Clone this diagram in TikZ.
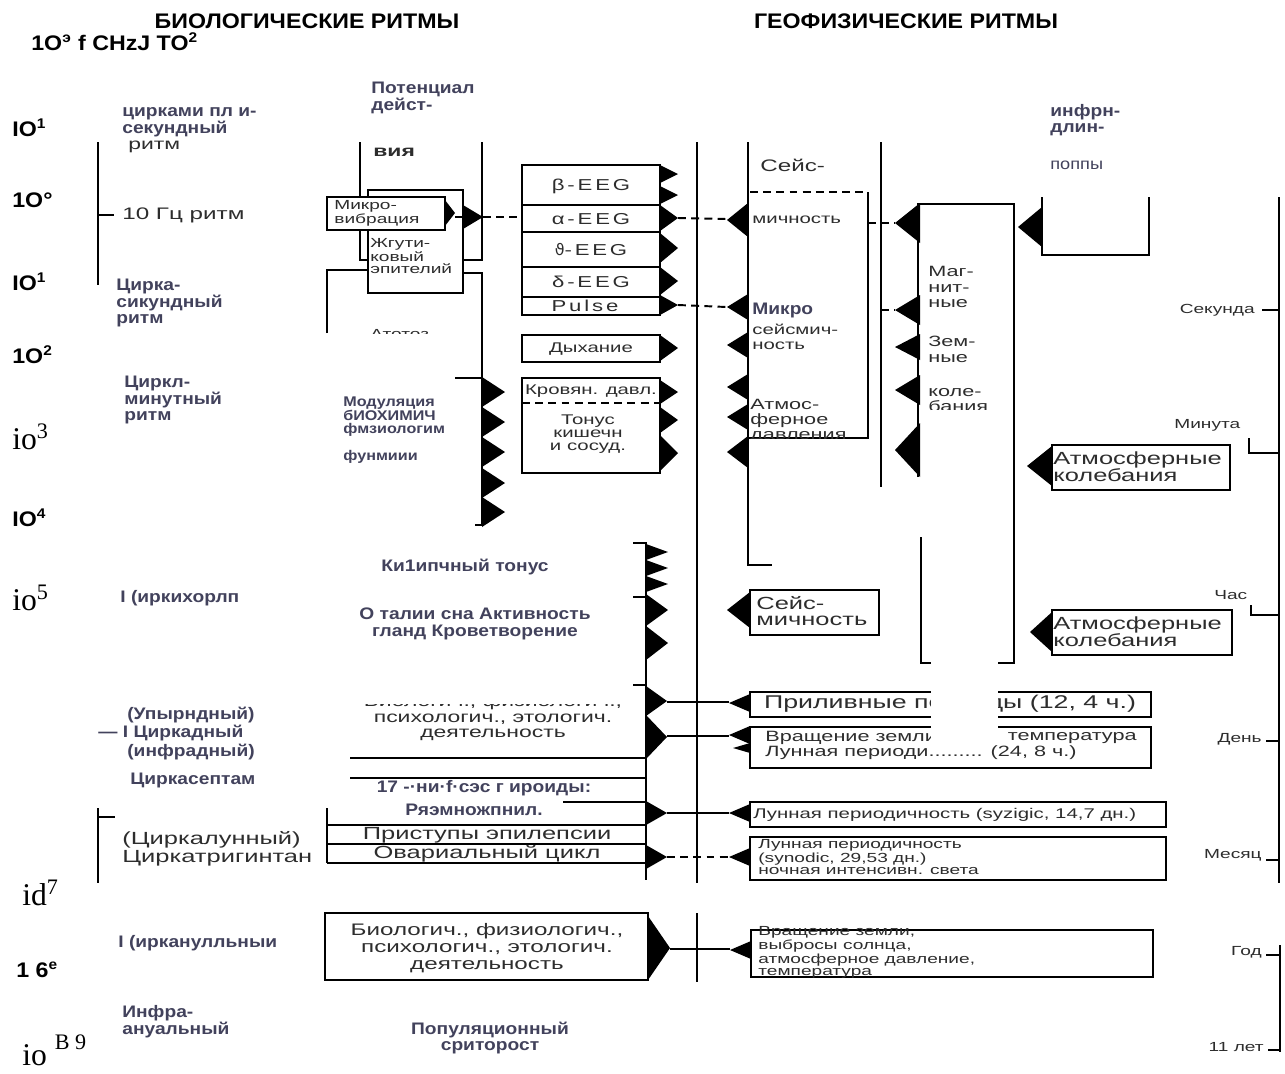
\documentclass[tikz,border=0pt]{standalone}
\usepackage{fontspec}
\setmainfont{Liberation Sans}
\newfontfamily\ocrfont[FakeStretch=1.15]{Liberation Sans}
\newfontfamily\hdfont[FakeStretch=1.1]{Liberation Sans}
\newfontfamily\axfont[FakeStretch=1.1]{Liberation Sans}
\newfontfamily\scanfont[FakeStretch=1.45]{Liberation Sans}
\newfontfamily\eegfont[FakeStretch=1.4,LetterSpace=18]{Liberation Sans}
\newfontfamily\romfont{Liberation Serif}
\newfontfamily\symfont{DejaVu Sans}
\usetikzlibrary{positioning}
\definecolor{ocrc}{RGB}{66,66,92}
\definecolor{scanc}{RGB}{45,45,45}
\newcommand{\fsz}[2]{\fontsize{#1}{#2}\selectfont}
\newcommand{\rtri}[4]{\fill (#1,#2-#3) -- (#1+#4,#2) -- (#1,#2+#3) -- cycle;}
\newcommand{\ltri}[4]{\fill (#1,#2-#3) -- (#1-#4,#2) -- (#1,#2+#3) -- cycle;}
\tikzset{
  hd/.style={font=\hdfont\bfseries\fsz{12}{12}, inner sep=0},
  ocr/.style={text=ocrc, font=\ocrfont\bfseries\fsz{9.5}{9.5}, inner sep=0, align=left, anchor=west},
  ax/.style={font=\axfont\bfseries\fsz{12}{12}, inner sep=0, anchor=west},
  axr/.style={font=\romfont\fsz{18}{18}, inner sep=0, anchor=west},
  scan/.style={text=scanc, font=\scanfont\fsz{9}{9}, inner sep=0, align=left},
  scans/.style={scan, font=\scanfont\fsz{7.5}{6.5}},
  eeg/.style={text=scanc, font=\eegfont\fsz{9}{9}, inner sep=0},
  ln/.style={line width=1.2pt},
  bx/.style={draw, line width=1.2pt, fill=white},
  dl/.style={line width=1.1pt, dash pattern=on 4.5pt off 3pt},
}
\begin{document}
\begin{tikzpicture}[x=0.02cm,y=-0.02cm]
\useasboundingbox (0,0) rectangle (1285,1073);

% titles
\node[hd] (tbio) at (307,21) {БИОЛОГИЧЕСКИЕ РИТМЫ};
\node[hd] (tgeo) at (906,21) {ГЕОФИЗИЧЕСКИЕ РИТМЫ};
\node[ax] (fhz) at (31,42) {1O\textsuperscript{э} f CHzJ TO\textsuperscript{2}};

% frequency scale
\node[ax] (e1) at (12,128) {IO\textsuperscript{1}};
\node[ax] (e0) at (12,200) {1O°};
\node[ax] (em1) at (12,282) {IO\textsuperscript{1}};
\node[ax] (em2) at (12,355) {1O\textsuperscript{2}};
\node[axr] (em3) at (12,437) {io\textsuperscript{3}};
\node[ax] (em4) at (12,518) {IO\textsuperscript{4}};
\node[axr] (em5) at (12,598) {io\textsuperscript{5}};
\node[axr] (em7) at (22,893) {id\textsuperscript{7}};
\node[ax] (em8) at (16,970) {1 6\textsuperscript{e}};
\node[axr] (em9) at (22,1050) {io \raisebox{3pt}{\textsuperscript{B 9}}};

% rhythm names
\draw[ln] (98,142) -- (98,285);
\draw[ln] (98,215) -- (114,215);
\draw[ln] (98,808) -- (98,883);
\draw[ln] (98,817) -- (115,817);
\node[ocr] (cms) at (122,122) {цирками пл и-\\секундный};
\node[scan, anchor=west] (cmsr) at (128,147) {ритм};
\node[scan, anchor=west, font=\scanfont\fsz{9.5}{9}] (hz10) at (122,215) {10 Гц ритм};
\node[ocr] (cks) at (116,303) {Цирка-\\сикундный\\ритм};
\node[ocr] (ckm) at (124,400) {Циркл-\\минутный\\ритм};
\node[ocr] (ckh) at (120,598) {I (иркихорлп};
\node[ocr] (cup) at (127,715) {(Упырндный)};
\node[ocr] (cday) at (98,733) {— I Циркадный};
\node[ocr] (cinf) at (127,752) {(инфрадный)};
\node[ocr] (csep) at (130,780) {Циркасептам};
\node[scan, anchor=west, font=\scanfont\fsz{10}{8.5}] (clun) at (122,849) {(Циркалунный)\\Циркатригинтан};
\node[ocr] (cann) at (118,943) {I (ирканулльныи};
\node[ocr] (cinfa) at (122,1022) {Инфра-\\ануальный};

% biological column
\node[ocr] (pot) at (371,98) {Потенциал\\дейст-};
\draw[ln] (360,142) -- (360,260) -- (482,260) -- (482,142);
\node[scan, anchor=west, font=\scanfont\bfseries\fsz{9}{9}] (via) at (373,152) {вия};
\draw[ln] (327,333) -- (327,270) -- (368,270);
\draw[ln] (463,273) -- (482,273) -- (482,525) -- (475,525);
\draw[ln] (455,378) -- (482,378);
\draw[bx] (368,190) rectangle (463,293);
\node[scans, anchor=west] (zhg) at (370,256) {Жгути-\\ковый\\эпителий};
\draw[bx] (327,197) rectangle (445,230);
\node[scans, anchor=west] (mik) at (334,213) {Микро-\\вибрация};
\begin{scope}
\clip (360,320) rectangle (450,333);
\node[scans, anchor=west] (atot) at (370,334) {Атотоз};
\end{scope}
\node[ocr, font=\ocrfont\bfseries\fsz{8}{7.6}] (mod) at (343,430) {Модуляция\\бИОХИМИЧ\\фмзиологим\\[7.6pt]фунмиии};
\draw[ln] (455,217) -- (463,217);
\rtri{445}{213}{13}{10}
\rtri{463}{217}{12}{20}
\foreach \yy in {392,422,452,483,512} {\rtri{482}{\yy}{15}{23}}

\draw[bx] (522,165) rectangle (660,205);
\node[eeg] (beeg) at (591,186) {β-EEG};
\draw[bx] (522,205) rectangle (660,232);
\node[eeg] (aeeg) at (591,219) {α-EEG};
\draw[bx] (522,232) rectangle (660,267);
\node[eeg] (teeg) at (591,250) {{\symfont ϑ}-EEG};
\draw[bx] (522,267) rectangle (660,297);
\node[eeg] (deeg) at (591,282) {δ-EEG};
\draw[bx] (522,297) rectangle (660,315);
\node[eeg] (puls) at (585,306) {Pulse};
\draw[bx] (522,335) rectangle (660,362);
\node[scan, font=\scanfont\fsz{8}{8}] (dyh) at (591,349) {Дыхание};
\draw[bx] (522,378) rectangle (660,473);
\draw[dl] (522,403) -- (660,403);
\node[scan, font=\scanfont\fsz{8}{8}] (krov) at (591,391) {Кровян. давл.};
\node[scan, align=center, font=\scanfont\fsz{8}{7.5}] (ton) at (588,434) {Тонус\\кишечн\\и сосуд.};
\rtri{660}{174}{9}{18}
\rtri{660}{195}{9}{18}
\rtri{660}{218}{13}{18}
\rtri{660}{248}{15}{18}
\rtri{660}{281}{14}{18}
\rtri{660}{305}{10}{18}
\rtri{660}{348}{13}{18}
\rtri{660}{392}{12}{18}
\rtri{660}{420}{13}{18}
\rtri{660}{453}{18}{18}

\node[ocr, anchor=center] (klim) at (465,567) {Ки1ипчный тонус};
\node[ocr, anchor=center, align=center] (son) at (475,624) {О талии сна Активность\\гланд Кроветворение};
\draw[ln] (633,543) -- (646,543) -- (646,880);
\draw[ln] (633,597) -- (646,597);
\draw[ln] (633,685) -- (646,685);
\foreach \yy in {552,568,584} {\rtri{646}{\yy}{8}{22}}
\rtri{646}{610}{16}{22}
\rtri{646}{643}{17}{22}

\begin{scope}
\clip (340,704) rectangle (640,750);
\node[scan, align=center, font=\scanfont\fsz{9}{9}] (bioact) at (493,718) {Биологич., физиологич.,\\психологич., этологич.\\деятельность};
\end{scope}
\draw[ln] (350,758) -- (646,758);
\draw[ln] (350,778) -- (646,778);
\draw[ln] (563,802) -- (646,802);
\draw[ln] (327,808) -- (327,863);
\draw[ln] (327,825) -- (646,825);
\draw[ln] (327,844) -- (646,844);
\draw[ln] (327,863) -- (646,863);
\node[ocr, anchor=center] (gorm) at (484,788) {17 -·ни·f·сэс г ироиды:};
\node[ocr, anchor=center] (razm) at (474,810) {Ряэмножпнил.};
\node[scan, font=\scanfont\fsz{10}{10}] (epil) at (487,835) {Приступы эпилепсии};
\node[scan, font=\scanfont\fsz{10}{10}] (ovar) at (487,854) {Овариальный цикл};
\rtri{646}{701}{15}{21}
\rtri{646}{737}{22}{21}
\rtri{646}{813}{12}{21}
\rtri{646}{857}{12}{21}

\draw[ln] (325,913) rectangle (648,980);
\node[scan, align=center, font=\scanfont\fsz{9.5}{9.6}] (bio2) at (487,948) {Биологич., физиологич.,\\психологич., этологич.\\деятельность};
\rtri{648}{948}{32}{22}
\node[ocr, anchor=center, align=center] (pop) at (490,1038) {Популяционный\\сриторост};

% main divider
\draw[ln] (697,142) -- (697,883);
\draw[ln] (697,913) -- (697,982);

% geophysical column
\draw[ln] (748,142) -- (748,565) -- (772,565);
\node[scan, anchor=west, font=\scanfont\fsz{9.5}{9}] (seis) at (760,165) {Сейс-};
\draw[dl] (750,192) -- (868,192);
\draw[ln] (868,192) -- (868,438) -- (748,438);
\node[scan, anchor=west, font=\scanfont\fsz{8}{8}] (mich) at (752,220) {мичность};
\node[ocr] (mikro) at (752,310) {Микро};
\node[scan, anchor=west, font=\scanfont\fsz{8}{8.5}] (smich) at (752,337) {сейсмич-\\ность};
\node[scan, anchor=west, font=\scanfont\fsz{8.5}{8.5}] (atm) at (750,413) {Атмос-\\ферное};
\begin{scope}
\clip (745,428) rectangle (866,438);
\node[scan, anchor=west, font=\scanfont\fsz{8.5}{8.5}] (davl) at (750,437) {давления};
\end{scope}
\draw[ln] (881,142) -- (881,487);
\ltri{748}{220}{17}{21}
\foreach \yy in {307,345,387,417} {\ltri{748}{\yy}{13}{21}}
\ltri{748}{452}{16}{21}

\draw[ln] (918,477) -- (918,204) -- (1014,204) -- (1014,663) -- (998,663);
\draw[ln] (921,537) -- (921,663) -- (931,663);
\node[scan, anchor=west, font=\scanfont\fsz{8.5}{9}] (magn) at (928,287) {Маг-\\нит-\\ные};
\node[scan, anchor=west, font=\scanfont\fsz{8.5}{9}] (zem) at (928,349) {Зем-\\ные};
\node[scan, anchor=west, font=\scanfont\fsz{8.5}{9}] (kol) at (928,400) {коле-\\бания};
\ltri{920}{223}{20}{25}
\ltri{920}{310}{15}{25}
\ltri{920}{347}{13}{25}
\ltri{920}{390}{15}{25}
\ltri{920}{450}{27}{25}

\node[ocr] (infr) at (1050,120) {инфрн-\\длин-};
\node[ocr, font=\ocrfont\fsz{9}{9}] (popp) at (1050,165) {поппы};
\draw[ln] (1042,197) -- (1042,255) -- (1149,255) -- (1149,197);
\ltri{1042}{227}{20}{24}

\draw[bx] (1052,445) rectangle (1230,490);
\node[scan, anchor=west, font=\scanfont\fsz{10}{9.5}] (atk1) at (1053,467) {Атмосферные\\колебания};
\ltri{1052}{466}{20}{25}
\draw[bx] (1052,610) rectangle (1232,655);
\node[scan, anchor=west, font=\scanfont\fsz{10}{9.5}] (atk2) at (1053,632) {Атмосферные\\колебания};
\ltri{1052}{632}{20}{22}
\draw[bx] (750,590) rectangle (879,635);
\node[scan, anchor=west, font=\scanfont\fsz{10}{9.5}] (seis2) at (756,611) {Сейс-\\мичность};
\ltri{750}{610}{18}{23}

\draw[bx] (750,692) rectangle (1151,717);
\node[scan, anchor=center, font=\scanfont\fsz{10.5}{10}] (pril) at (950,704) {Приливные периоды (12, 4 ч.)};
\ltri{750}{703}{9}{21}
\draw[bx] (750,727) rectangle (1151,768);
\node[scan, anchor=west, font=\scanfont\fsz{8.5}{8}] (vr1) at (765,738) {Вращение земли,};
\node[scan, anchor=east, font=\scanfont\fsz{8.5}{8}] (vr2) at (1137,738) {температура};
\node[scan, anchor=west, font=\scanfont\fsz{8.5}{8}] (lun1) at (765,753) {Лунная периоди......... (24, 8 ч.)};
\ltri{750}{735}{9}{21}
\ltri{750}{748}{5}{17}
\draw[bx] (750,802) rectangle (1166,827);
\node[scan, anchor=west, font=\scanfont\fsz{8}{8}] (syz) at (753,815) {Лунная периодичность (syzigic, 14,7 дн.)};
\ltri{750}{813}{9}{21}
\draw[bx] (750,837) rectangle (1166,880);
\node[scan, anchor=west, font=\scanfont\fsz{7.5}{6.5}] (syn) at (758,857) {Лунная периодичность\\(synodic, 29,53 дн.)\\ночная интенсивн. света};
\ltri{750}{857}{9}{21}
\draw[bx] (751,930) rectangle (1153,977);
\node[scan, anchor=west, font=\scanfont\fsz{7.5}{6.6}] (vrz) at (758,952) {Вращение земли,\\выбросы солнца,\\атмосферное давление,\\температура};
\ltri{751}{950}{9}{21}

% connectors
\coordinate (mikT) at (483,217);
\coordinate (aT) at (678,218);
\coordinate (pT) at (678,305);
\coordinate (gA) at (727,219);
\coordinate (gP) at (727,307);
\coordinate (mR) at (868,223);
\coordinate (mgA) at (895,223);
\coordinate (sR) at (881,310);
\coordinate (mgP) at (895,310);
\draw[dl] (mikT) -- (522,217);
\draw[dl] (aT) -- (gA);
\draw[dl] (pT) -- (gP);
\draw[dl] (mR) -- (mgA);
\draw[dl] (sR) -- (mgP);
\coordinate (b1) at (667,702);
\coordinate (b2) at (667,736);
\coordinate (b3) at (667,813);
\coordinate (b4) at (667,857);
\coordinate (b5) at (670,949);
\coordinate (g1) at (729,702);
\coordinate (g2) at (729,736);
\coordinate (g3) at (729,813);
\coordinate (g4) at (729,857);
\coordinate (g5) at (730,949);
\draw[ln] (b1) -- (g1);
\draw[ln] (b2) -- (g2);
\draw[ln] (b3) -- (g3);
\draw[dl] (b4) -- (g4);
\draw[ln] (b5) -- (g5);

% period scale
\draw[ln] (1279,197) -- (1279,883);
\draw[ln] (1280,945) -- (1280,1052);
\node[scans, anchor=east] (sek) at (1255,310) {Секунда};
\draw[ln] (1262,310) -- (1279,310);
\node[scans, anchor=west] (min) at (1174,425) {Минута};
\draw[ln] (1249,438) -- (1249,453) -- (1279,453);
\node[scans, anchor=west] (chas) at (1214,595) {Час};
\draw[ln] (1251,605) -- (1251,615) -- (1279,615);
\node[scans, anchor=east] (den) at (1262,739) {День};
\draw[ln] (1266,741) -- (1279,741);
\node[scans, anchor=east] (mes) at (1262,855) {Месяц};
\draw[ln] (1266,860) -- (1279,860);
\node[scans, anchor=east] (god) at (1262,952) {Год};
\draw[ln] (1266,955) -- (1280,955);
\node[scans, anchor=east] (l11) at (1264,1047) {11 лет};
\draw[ln] (1268,1050) -- (1280,1050);

% erased strip
\fill[white] (931,410) rectangle (998,745);
\end{tikzpicture}
\end{document}
